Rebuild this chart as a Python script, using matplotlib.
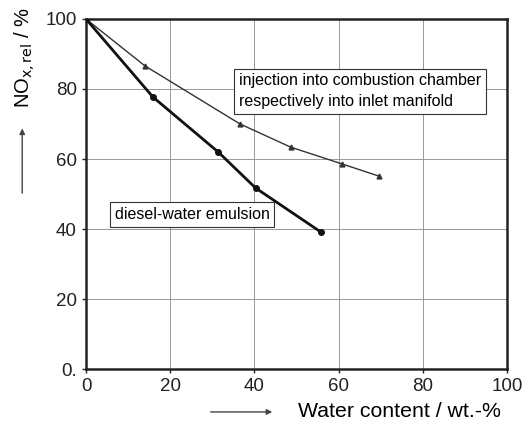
import matplotlib
matplotlib.use('Agg')
import matplotlib.pyplot as plt

plt.rcParams['font.family'] = ['Liberation Sans', 'DejaVu Sans']

# injection into combustion chamber / inlet manifold
inj_x = [0, 14, 36.6, 48.6, 60.8, 69.6]
inj_y = [100, 86.6, 70, 63.4, 58.6, 55.1]

# diesel-water emulsion
emu_x = [0, 15.9, 31.4, 40.3, 55.7]
emu_y = [100, 77.7, 62, 51.7, 39.2]

x_ticks = [0, 20, 40, 60, 80, 100]
y_ticks = [0, 20, 40, 60, 80, 100]
y_tick_labels = ['0.', '20', '40', '60', '80', '100']

fig = plt.figure(figsize=(5.29, 4.26), dpi=100)
ax = fig.add_axes([0.1626, 0.1338, 0.7958, 0.8216])

ax.plot(inj_x, inj_y, color='#333333', lw=1.0, marker='^', ms=3.5, zorder=3)
ax.plot(emu_x, emu_y, color='#111111', lw=2.0, marker='o', ms=4, zorder=3)

ax.set_xlim(0, 100)
ax.set_ylim(0, 100)
ax.set_xticks(x_ticks)
ax.set_yticks(y_ticks)
ax.set_yticklabels(y_tick_labels)
ax.tick_params(labelsize=13.5, length=3, width=1, colors='#222222')
ax.grid(True, color='#999999', lw=0.7)
for s in ax.spines.values():
    s.set_linewidth(1.8)
    s.set_color('#222222')

box = dict(boxstyle='square,pad=0.3', facecolor='white', edgecolor='#333333', lw=0.8)
ax.text(36.3, 79.4, 'injection into combustion chamber\nrespectively into inlet manifold',
        fontsize=11.5, ha='left', va='center', linespacing=1.45, bbox=box, zorder=4)
ax.text(6.8, 44.1, 'diesel-water emulsion', fontsize=11.5, ha='left', va='center',
        bbox=box, zorder=4)

# axis labels with arrows
fig.text(0.047, 0.865, r'NO$_{\mathrm{x,rel}}$ / %', rotation=90, fontsize=14.5,
         ha='center', va='center')
fig.add_artist(matplotlib.patches.FancyArrowPatch(
    (0.042, 0.54), (0.042, 0.705), transform=fig.transFigure,
    arrowstyle='-|>', mutation_scale=8, lw=1, color='#444444'))
fig.text(0.563, 0.033, 'Water content / wt.-%', fontsize=15.3, ha='left', va='center')
fig.add_artist(matplotlib.patches.FancyArrowPatch(
    (0.393, 0.033), (0.52, 0.033), transform=fig.transFigure,
    arrowstyle='-|>', mutation_scale=8, lw=1, color='#444444'))

fig.savefig('out.png', dpi=100)
